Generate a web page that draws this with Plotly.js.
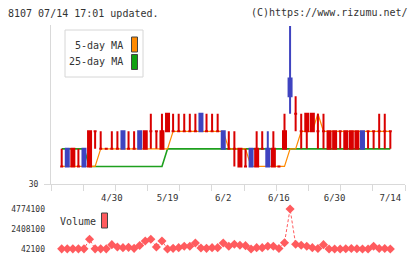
<!DOCTYPE html>
<html><head><meta charset="utf-8">
<script src="https://cdn.plot.ly/plotly-3.0.1.min.js"></script>
<style>html,body{margin:0;padding:0;background:#fff;} #chart{width:420px;height:259px;}</style>
</head><body><div id="chart"></div>
<script>
// ---- data ----
const dates = ['4/16','4/17','4/18','4/21','4/22','4/23','4/24','4/25','4/28','4/30',
  '5/1','5/7','5/8','5/9','5/12','5/13','5/14','5/15','5/16','5/19',
  '5/20','5/21','5/22','5/23','5/26','5/27','5/28','5/29','5/30','6/2',
  '6/3','6/4','6/5','6/6','6/9','6/10','6/11','6/12','6/13','6/16',
  '6/17','6/18','6/19','6/20','6/23','6/24','6/25','6/26','6/27','6/30',
  '7/1','7/2','7/3','7/4','7/7','7/8','7/9','7/10','7/11','7/14'];
const open  = [31,32,31,31,32,31,33,32,32,32, 32,33,32,32,33,32,33,33,32,33,
               33,33,33,33,33,34,33,33,33,33, 32,32,31,31,32,31,32,32,31,31,
               32,36,34,33,33,33,33,33,32,32, 33,32,32,32,33,33,33,33,33,33];
const high  = [32,32,32,32,32,33,33,33,32,33, 33,33,33,33,33,33,34,33,34,34,
               34,34,34,34,34,34,34,34,34,33, 33,33,32,32,32,33,33,33,33,31,
               34,39,35,34,34,34,34,34,33,33, 33,33,33,33,33,33,33,34,34,33];
const low   = [31,31,31,31,31,31,32,32,32,32, 32,32,32,32,32,32,32,32,32,33,
               33,33,33,33,33,33,33,33,33,32, 32,31,31,31,31,31,32,31,31,31,
               32,34,33,32,32,33,32,32,32,32, 32,32,32,32,32,32,32,32,32,32];
const close = [31,31,32,31,31,33,33,32,32,32, 32,32,32,32,32,33,33,33,33,34,
               33,33,33,33,33,33,33,33,33,32, 32,32,32,31,31,32,32,31,32,31,
               33,35,34,33,34,34,33,33,33,33, 33,33,33,33,32,33,33,33,33,33];
const ma5   = [31,31,31,31,31,31,31,32,32,32, 32,32,32,32,32,32,32,32,32,32,
               33,33,33,33,33,33,33,33,33,33, 32,32,32,32,31,31,31,31,31,31,
               31,32,32,33,33,33,34,33,33,33, 33,33,33,33,33,33,33,33,33,33];
const ma25  = [32,32,32,32,32,31,31,31,31,31, 31,31,31,31,31,31,31,31,31,32,
               32,32,32,32,32,32,32,32,32,32, 32,32,32,32,32,32,32,32,32,32,
               32,32,32,32,32,32,32,32,32,32, 32,32,32,32,32,32,32,32,32,32];
const volume = [60000,60000,60000,60000,60000,1190000,60000,60000,60000,556000,
                280000,200000,240000,120000,450000,990000,1190000,280000,990000,50000,
                120000,200000,360000,360000,750000,160000,120000,200000,200000,750000,
                360000,600000,480000,440000,42100,200000,200000,360000,360000,100000,
                790000,4774100,600000,480000,360000,200000,100000,556000,42100,42100,
                42100,70000,100000,70000,42100,42100,360000,100000,100000,42100];
const labelIdx = [9,19,29,39,49,59];
const volTicks = [42100,2408100,4774100];

// ---- styling ----
const RED='#d90000', BLUE='#3f44c0', ORANGE='#ff8a00', GREEN='#1ea01e', VOL='#ff5b5e';
const AX='#d9d9d9', TXT='#333';
const L=51, R=405, T=25, B=249;
const pxX = v => (v-L)/(R-L);
const pxY = v => (B-v)/(B-T);

const idx = dates.map((d,i)=>i);
const isDown = close.map((c,i)=> c < open[i]);
const pick = (arr, down) => arr.map((v,i)=> isDown[i]===down ? v : null);

function candle(down, color){
  return {type:'candlestick', x: idx,
    open: pick(open,down), high: pick(high,down), low: pick(low,down), close: pick(close,down),
    xaxis:'x', yaxis:'y3', whiskerwidth:0,
    increasing:{line:{color:color,width:2}, fillcolor:color},
    decreasing:{line:{color:color,width:2}, fillcolor:color},
    hoverinfo:'skip', showlegend:false};
}

const traces = [
  {type:'scatter', mode:'lines', x:idx, y:ma25, xaxis:'x', yaxis:'y', line:{color:GREEN,width:1.6}, hoverinfo:'skip'},
  {type:'scatter', mode:'lines', x:idx, y:ma5, xaxis:'x', yaxis:'y', line:{color:ORANGE,width:1.2}, hoverinfo:'skip'},
  candle(false, RED),
  candle(true, BLUE),
  {type:'scatter', mode:'lines+markers', x:idx, y:volume, xaxis:'x2', yaxis:'y2', cliponaxis:false,
   line:{color:VOL,width:1,dash:'3px,2px'}, marker:{symbol:'diamond',size:7,color:VOL}, hoverinfo:'skip'}
];

const xr = [(L-61.7)/5.57, (R-61.7)/5.57];
const layout = {
  width:420, height:259, margin:{l:L, r:420-R, t:T, b:259-B},
  paper_bgcolor:'#fff', plot_bgcolor:'rgba(0,0,0,0)', showlegend:false,
  boxgap:0.46, boxgroupgap:0,
  font:{family:'DejaVu Sans Mono, monospace', size:10, color:TXT},
  title:{text:'8107 07/14 17:01 updated.', xref:'container', yref:'container',
         x:8/420, xanchor:'left', y:1-13/259, yanchor:'middle', font:{size:10,color:TXT}},
  xaxis:{anchor:'y', range:xr, tickmode:'array', tickvals:labelIdx, ticktext:labelIdx.map(i=>dates[i]),
         ticks:'outside', ticklen:5, tickcolor:'rgba(0,0,0,0)', tickfont:{size:9,color:TXT},
         showline:true, linecolor:AX, linewidth:1, showgrid:false, zeroline:false,
         minor:{tick0:xr[0], dtick:(xr[1]-xr[0])/11, ticks:'outside', ticklen:6, tickcolor:AX, tickwidth:1, showgrid:false},
         rangeslider:{visible:false}, fixedrange:true},
  yaxis:{domain:[pxY(184),1], anchor:'x', range:[30,39.05], tickmode:'array', tickvals:[30], ticktext:['30'],
         ticks:'outside', ticklen:6, tickcolor:AX, showline:true, linecolor:AX, linewidth:1,
         showgrid:false, zeroline:false, tickfont:{size:8,color:TXT}, ticklabelstandoff:4},
  yaxis3:{overlaying:'y', anchor:'x', range:[30,39.05], visible:false},
  xaxis2:{anchor:'y2', matches:'x', visible:false, range:xr},
  yaxis2:{domain:[0,pxY(209)], anchor:'x2', range:[42100,4774100], tickmode:'array', tickvals:volTicks,
          ticktext:volTicks.map(String), ticks:'', showline:false, showgrid:false, zeroline:false,
          tickfont:{size:8,color:TXT}, ticklabelstandoff:5},
  annotations:[
    {xref:'paper', yref:'paper', x:pxX(410), y:pxY(13), xanchor:'right', yanchor:'middle', showarrow:false,
     text:'(C)https://www.rizumu.net/', font:{size:10,color:TXT}},
    {xref:'paper', yref:'paper', x:pxX(125), y:pxY(45), xanchor:'right', yanchor:'middle', showarrow:false,
     text:'5-day MA', font:{size:10,color:TXT}},
    {xref:'paper', yref:'paper', x:pxX(125), y:pxY(62), xanchor:'right', yanchor:'middle', showarrow:false,
     text:'25-day MA', font:{size:10,color:TXT}},
    {xref:'paper', yref:'paper', x:pxX(58), y:pxY(221), xanchor:'left', yanchor:'middle', showarrow:false,
     text:'Volume', font:{size:10,color:TXT}}
  ],
  shapes:[
    {type:'rect', xref:'paper', yref:'paper', x0:pxX(65), x1:pxX(143), y0:pxY(30), y1:pxY(77),
     line:{color:'#d6d6d6',width:1}, fillcolor:'#fff', layer:'above'},
    {type:'rect', xref:'paper', yref:'paper', x0:pxX(131.5), x1:pxX(137.5), y0:pxY(37), y1:pxY(52),
     line:{color:'#444',width:1}, fillcolor:ORANGE, layer:'above'},
    {type:'rect', xref:'paper', yref:'paper', x0:pxX(131.5), x1:pxX(137.5), y0:pxY(54.5), y1:pxY(69.5),
     line:{color:'#444',width:1}, fillcolor:'#11a011', layer:'above'},
    {type:'rect', xref:'paper', yref:'paper', x0:pxX(101.5), x1:pxX(107.5), y0:pxY(213), y1:pxY(228),
     line:{color:'#444',width:1}, fillcolor:VOL, layer:'above'}
  ]
};
Plotly.newPlot('chart', traces, layout, {staticPlot:true, displayModeBar:false});
</script></body></html>
